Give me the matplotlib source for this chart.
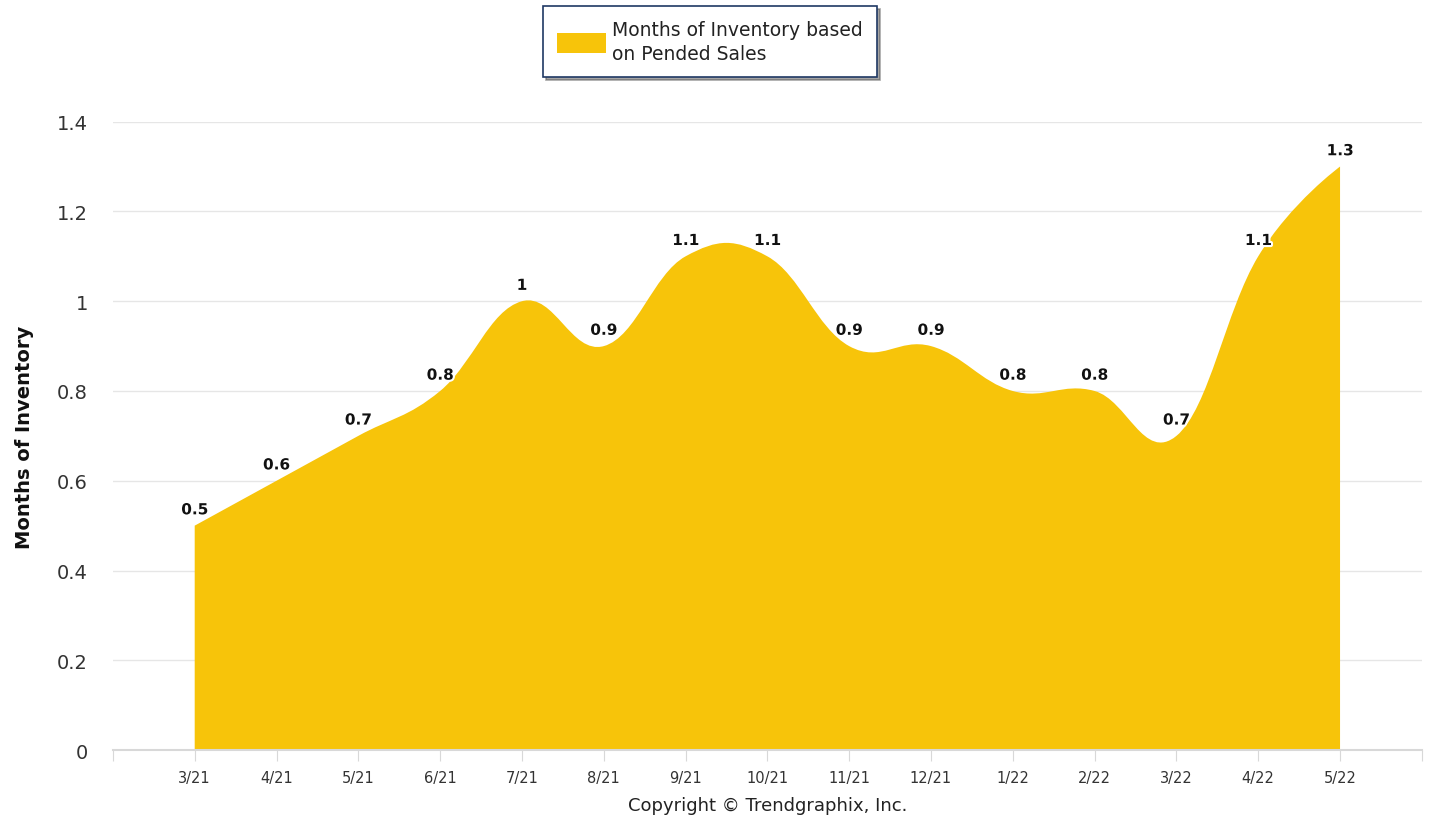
import numpy as np
import matplotlib.pyplot as plt
from matplotlib.path import Path
from matplotlib.patches import PathPatch, Patch
import matplotlib.patheffects as pe

months = ['3/21', '4/21', '5/21', '6/21', '7/21', '8/21', '9/21', '10/21',
          '11/21', '12/21', '1/22', '2/22', '3/22', '4/22', '5/22']
inventory = [0.5, 0.6, 0.7, 0.8, 1.0, 0.9, 1.1, 1.1, 0.9, 0.9, 0.8, 0.8, 0.7, 1.1, 1.3]

fill_col = '#F7C40A'


def spline_path(xs, ys, smoothing=1.5):
    # control points like a highcharts spline
    n = len(xs)
    denom = smoothing + 1
    left = [(xs[i], ys[i]) for i in range(n)]
    right = [(xs[i], ys[i]) for i in range(n)]
    for i in range(1, n - 1):
        px, py = xs[i], ys[i]
        lcx = (smoothing * px + xs[i - 1]) / denom
        lcy = (smoothing * py + ys[i - 1]) / denom
        rcx = (smoothing * px + xs[i + 1]) / denom
        rcy = (smoothing * py + ys[i + 1]) / denom
        corr = (rcy - lcy) * (rcx - px) / (rcx - lcx) + py - rcy
        left[i] = (lcx, lcy + corr)
        right[i] = (rcx, rcy + corr)
    verts = [(xs[0], 0), (xs[0], ys[0])]
    codes = [Path.MOVETO, Path.LINETO]
    for i in range(1, n):
        verts += [right[i - 1], left[i], (xs[i], ys[i])]
        codes += [Path.CURVE4] * 3
    verts += [(xs[-1], 0), (xs[0], 0)]
    codes += [Path.LINETO, Path.CLOSEPOLY]
    return Path(verts, codes)


x = np.arange(len(months))

fig = plt.figure(figsize=(14.29, 8.29), dpi=100)
ax = fig.add_axes([0.079, 0.094, 0.916, 0.758])

ax.add_patch(PathPatch(spline_path(x, inventory), facecolor=fill_col,
                       edgecolor='none', zorder=2))

for xi, v in zip(x, inventory):
    ax.annotate(f'{v:g}', (xi, v), xytext=(0, 6), textcoords='offset points',
                ha='center', va='bottom', fontsize=11, fontweight='bold',
                color='#111111', zorder=5,
                path_effects=[pe.withStroke(linewidth=3, foreground='white')])

ax.set_xlim(-1, 15)
ax.set_ylim(0, 1.4)
ax.set_yticks(np.arange(0, 1.41, 0.2))
ax.set_yticklabels(['0', '0.2', '0.4', '0.6', '0.8', '1', '1.2', '1.4'],
                   fontsize=14, color='#333333')
ax.set_xticks(np.arange(-1, 16))
ax.set_xticklabels([''] + months + [''], fontsize=10.5, color='#333333')
ax.tick_params(axis='y', length=0, pad=18)
ax.tick_params(axis='x', length=8, color='#d8d8d8', pad=6)
ax.grid(axis='y', color='#e6e6e6', linewidth=1, zorder=0)
ax.set_axisbelow(True)
for s in ['top', 'right', 'left']:
    ax.spines[s].set_visible(False)
ax.spines['bottom'].set_color('#d8d8d8')
ax.spines['bottom'].set_linewidth(1.5)

ax.set_ylabel('Months of Inventory', fontsize=14, fontweight='bold',
              color='#111111')
ax.yaxis.set_label_coords(-0.06, 0.5)

leg = fig.legend(handles=[Patch(facecolor=fill_col, edgecolor='none')],
                 labels=['Months of Inventory based\non Pended Sales'],
                 loc='upper center', bbox_to_anchor=(0.497, 0.998),
                 prop={'size': 13.5}, frameon=True,
                 fancybox=False, shadow=True, handlelength=2.6,
                 handleheight=1.3, borderpad=0.75, labelspacing=0.2,
                 handletextpad=0.35, borderaxespad=0.3)
leg.get_frame().set_edgecolor('#1f3864')
leg.get_frame().set_linewidth(1.2)
for t in leg.get_texts():
    t.set_color('#222222')
    t.set_linespacing(1.3)

fig.text(0.537, 0.017, 'Copyright \u00a9 Trendgraphix, Inc.', ha='center',
         va='bottom', fontsize=13, color='#222222')

fig.savefig('out.png', dpi=100)
